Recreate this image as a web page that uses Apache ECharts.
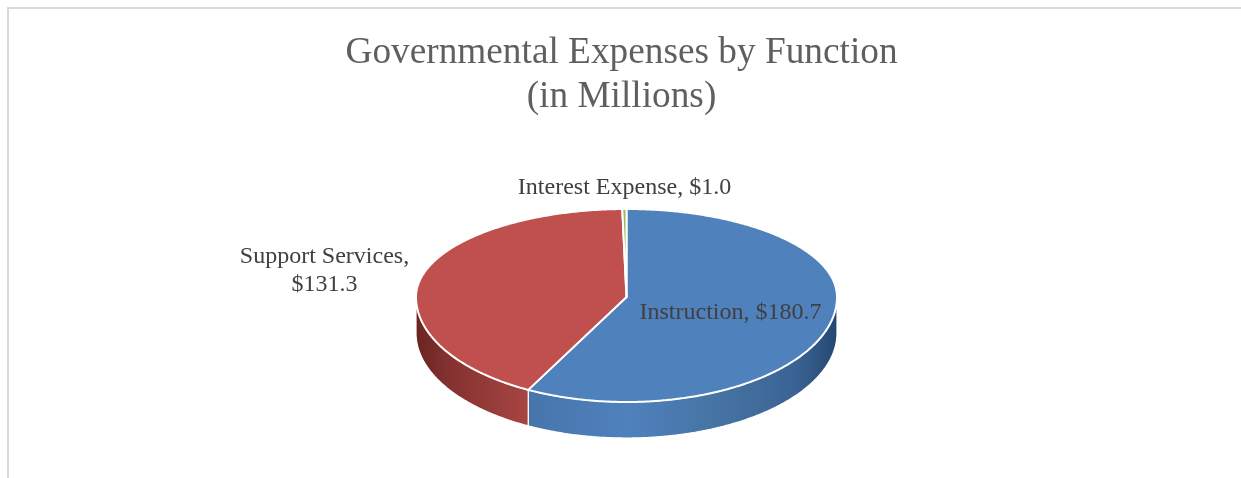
<!DOCTYPE html>
<html>
<head>
<meta charset="utf-8">
<style>html,body{margin:0;padding:0;background:#fff}#c{width:1241px;height:478px}</style>
<script src="https://cdn.jsdelivr.net/npm/echarts@6/dist/echarts.min.js"></script>
</head>
<body>
<div id="c"></div>
<script>
const categories = ['Instruction', 'Support Services', 'Interest Expense'];
const values = [180.7, 131.3, 1.0];
const titleLines = ['Governmental Expenses by Function', '(in Millions)'];
const topColors = ['#4f81bd', '#c0504d', '#9bbb59'];
const wallStops = [
  [[0, '#1f3f66'], [0.25, '#4674aa'], [0.5, '#4f81bd'], [0.75, '#44719f'], [0.9, '#3a6393'], [0.97, '#2c507c'], [1, '#244670']],
  [[0, '#6a2422'], [0.08, '#843230'], [0.27, '#a84542'], [0.5, '#c0504d'], [1, '#8a2f2d']],
  [[0, '#9bbb59'], [1, '#9bbb59']]
];
const labelBreaks = [false, true, false];
const labelPos = [[730.5, 313], [324.5, 271], [624.5, 188]];

// Tilted pie projection (the tilt makes the front half taller than the back half)
const cx = 626.5, cy = 297, rx = 210.5, ryBack = 88, ryFront = 105, depth = 36;
const total = values.reduce((a, b) => a + b, 0);
function pt(deg, drop) {
  const t = deg * Math.PI / 180, c = -Math.cos(t);
  return [cx + rx * Math.sin(t), cy + c * (c > 0 ? ryFront : ryBack) + (drop || 0)];
}
function arc(a, b, drop) {
  const n = Math.max(2, Math.ceil((b - a) * 2)), out = [];
  for (let i = 0; i <= n; i++) out.push(pt(a + (b - a) * i / n, drop));
  return out;
}
function span(i) {
  let s = 0;
  for (let k = 0; k < i; k++) s += values[k];
  return [s / total * 360, (s + values[i]) / total * 360];
}
function wallItem(params, api) {
  const i = params.dataIndex, v = api.value(0);
  const [a0, a1] = span(i);
  const a = Math.max(a0, 90), b = Math.min(a1, 270);
  if (!(b > a) || !v) return { type: 'group', children: [] };
  const pts = arc(a, b, 0).concat(arc(a, b, depth).reverse());
  return {
    type: 'polygon',
    shape: { points: pts },
    style: {
      fill: new echarts.graphic.LinearGradient(cx - rx, 0, cx + rx, 0,
        wallStops[i].map(s => ({ offset: s[0], color: s[1] })), true),
      stroke: '#fff', lineWidth: 1.2
    }
  };
}
function topItem(params, api) {
  const i = params.dataIndex, v = api.value(0);
  const [a0, a1] = span(i);
  return {
    type: 'polygon',
    shape: { points: [[cx, cy]].concat(arc(a0, a1, 0)) },
    style: { fill: topColors[i], stroke: '#fff', lineWidth: 2, lineJoin: 'round' }
  };
}
function labelItem(params, api) {
  const i = params.dataIndex, v = api.value(0);
  const money = '$' + v.toFixed(1);
  return {
    type: 'text',
    x: labelPos[i][0], y: labelPos[i][1],
    style: {
      text: categories[i] + ',' + (labelBreaks[i] ? '\n' : ' ') + money,
      fill: '#404040',
      font: '24px "Liberation Serif"',
      lineHeight: 28,
      align: 'center', verticalAlign: 'middle'
    }
  };
}
const data = values.map((v, i) => ({ name: categories[i], value: [v] }));
const chart = echarts.init(document.getElementById('c'), null, { renderer: 'canvas' });
chart.setOption({
  animation: false,
  backgroundColor: '#ffffff',
  title: {
    text: titleLines.join('\n'),
    left: 616.5, top: 26, textAlign: 'center',
    textStyle: { fontFamily: 'Liberation Serif', fontWeight: 'normal', fontSize: 37.3, color: '#5f5f5f', lineHeight: 44 }
  },
  graphic: [
    { type: 'line', silent: true, shape: { x1: 7, y1: 8, x2: 1241, y2: 8 }, style: { stroke: '#d9d9d9', lineWidth: 2 } },
    { type: 'line', silent: true, shape: { x1: 8, y1: 8, x2: 8, y2: 478 }, style: { stroke: '#d9d9d9', lineWidth: 2 } }
  ],
  series: [
    { type: 'custom', coordinateSystem: 'none', z: 2, silent: true, renderItem: wallItem, data },
    { type: 'custom', coordinateSystem: 'none', z: 3, silent: true, renderItem: topItem, data },
    { type: 'custom', coordinateSystem: 'none', z: 4, silent: true, renderItem: labelItem, data }
  ]
});
</script>
</body>
</html>
